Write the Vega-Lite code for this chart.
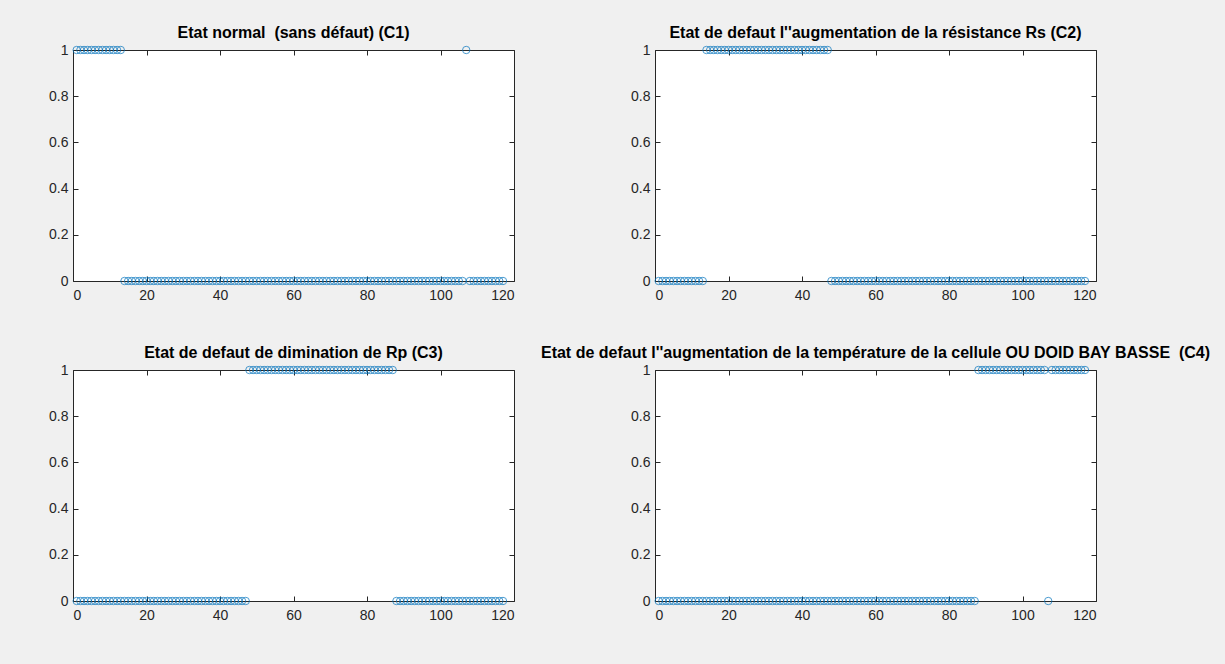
{
"$schema": "https://vega.github.io/schema/vega-lite/v6.json",
"background": "#f0f0f0",
"padding": {"left": 48, "top": 24, "right": 14, "bottom": 44},
"autosize": {"type": "pad"},
"bounds": "flush",
"columns": 2,
"spacing": {"column": 141, "row": 89},
"data": {"values": [
{"x":1,"C1":1,"C2":0,"C3":0,"C4":0},{"x":2,"C1":1,"C2":0,"C3":0,"C4":0},{"x":3,"C1":1,"C2":0,"C3":0,"C4":0},{"x":4,"C1":1,"C2":0,"C3":0,"C4":0},{"x":5,"C1":1,"C2":0,"C3":0,"C4":0},{"x":6,"C1":1,"C2":0,"C3":0,"C4":0},{"x":7,"C1":1,"C2":0,"C3":0,"C4":0},{"x":8,"C1":1,"C2":0,"C3":0,"C4":0},{"x":9,"C1":1,"C2":0,"C3":0,"C4":0},{"x":10,"C1":1,"C2":0,"C3":0,"C4":0},
{"x":11,"C1":1,"C2":0,"C3":0,"C4":0},{"x":12,"C1":1,"C2":0,"C3":0,"C4":0},{"x":13,"C1":1,"C2":0,"C3":0,"C4":0},
{"x":14,"C1":0,"C2":1,"C3":0,"C4":0},{"x":15,"C1":0,"C2":1,"C3":0,"C4":0},{"x":16,"C1":0,"C2":1,"C3":0,"C4":0},{"x":17,"C1":0,"C2":1,"C3":0,"C4":0},{"x":18,"C1":0,"C2":1,"C3":0,"C4":0},{"x":19,"C1":0,"C2":1,"C3":0,"C4":0},{"x":20,"C1":0,"C2":1,"C3":0,"C4":0},
{"x":21,"C1":0,"C2":1,"C3":0,"C4":0},{"x":22,"C1":0,"C2":1,"C3":0,"C4":0},{"x":23,"C1":0,"C2":1,"C3":0,"C4":0},{"x":24,"C1":0,"C2":1,"C3":0,"C4":0},{"x":25,"C1":0,"C2":1,"C3":0,"C4":0},{"x":26,"C1":0,"C2":1,"C3":0,"C4":0},{"x":27,"C1":0,"C2":1,"C3":0,"C4":0},{"x":28,"C1":0,"C2":1,"C3":0,"C4":0},{"x":29,"C1":0,"C2":1,"C3":0,"C4":0},{"x":30,"C1":0,"C2":1,"C3":0,"C4":0},
{"x":31,"C1":0,"C2":1,"C3":0,"C4":0},{"x":32,"C1":0,"C2":1,"C3":0,"C4":0},{"x":33,"C1":0,"C2":1,"C3":0,"C4":0},{"x":34,"C1":0,"C2":1,"C3":0,"C4":0},{"x":35,"C1":0,"C2":1,"C3":0,"C4":0},{"x":36,"C1":0,"C2":1,"C3":0,"C4":0},{"x":37,"C1":0,"C2":1,"C3":0,"C4":0},{"x":38,"C1":0,"C2":1,"C3":0,"C4":0},{"x":39,"C1":0,"C2":1,"C3":0,"C4":0},{"x":40,"C1":0,"C2":1,"C3":0,"C4":0},
{"x":41,"C1":0,"C2":1,"C3":0,"C4":0},{"x":42,"C1":0,"C2":1,"C3":0,"C4":0},{"x":43,"C1":0,"C2":1,"C3":0,"C4":0},{"x":44,"C1":0,"C2":1,"C3":0,"C4":0},{"x":45,"C1":0,"C2":1,"C3":0,"C4":0},{"x":46,"C1":0,"C2":1,"C3":0,"C4":0},{"x":47,"C1":0,"C2":1,"C3":0,"C4":0},
{"x":48,"C1":0,"C2":0,"C3":1,"C4":0},{"x":49,"C1":0,"C2":0,"C3":1,"C4":0},{"x":50,"C1":0,"C2":0,"C3":1,"C4":0},
{"x":51,"C1":0,"C2":0,"C3":1,"C4":0},{"x":52,"C1":0,"C2":0,"C3":1,"C4":0},{"x":53,"C1":0,"C2":0,"C3":1,"C4":0},{"x":54,"C1":0,"C2":0,"C3":1,"C4":0},{"x":55,"C1":0,"C2":0,"C3":1,"C4":0},{"x":56,"C1":0,"C2":0,"C3":1,"C4":0},{"x":57,"C1":0,"C2":0,"C3":1,"C4":0},{"x":58,"C1":0,"C2":0,"C3":1,"C4":0},{"x":59,"C1":0,"C2":0,"C3":1,"C4":0},{"x":60,"C1":0,"C2":0,"C3":1,"C4":0},
{"x":61,"C1":0,"C2":0,"C3":1,"C4":0},{"x":62,"C1":0,"C2":0,"C3":1,"C4":0},{"x":63,"C1":0,"C2":0,"C3":1,"C4":0},{"x":64,"C1":0,"C2":0,"C3":1,"C4":0},{"x":65,"C1":0,"C2":0,"C3":1,"C4":0},{"x":66,"C1":0,"C2":0,"C3":1,"C4":0},{"x":67,"C1":0,"C2":0,"C3":1,"C4":0},{"x":68,"C1":0,"C2":0,"C3":1,"C4":0},{"x":69,"C1":0,"C2":0,"C3":1,"C4":0},{"x":70,"C1":0,"C2":0,"C3":1,"C4":0},
{"x":71,"C1":0,"C2":0,"C3":1,"C4":0},{"x":72,"C1":0,"C2":0,"C3":1,"C4":0},{"x":73,"C1":0,"C2":0,"C3":1,"C4":0},{"x":74,"C1":0,"C2":0,"C3":1,"C4":0},{"x":75,"C1":0,"C2":0,"C3":1,"C4":0},{"x":76,"C1":0,"C2":0,"C3":1,"C4":0},{"x":77,"C1":0,"C2":0,"C3":1,"C4":0},{"x":78,"C1":0,"C2":0,"C3":1,"C4":0},{"x":79,"C1":0,"C2":0,"C3":1,"C4":0},{"x":80,"C1":0,"C2":0,"C3":1,"C4":0},
{"x":81,"C1":0,"C2":0,"C3":1,"C4":0},{"x":82,"C1":0,"C2":0,"C3":1,"C4":0},{"x":83,"C1":0,"C2":0,"C3":1,"C4":0},{"x":84,"C1":0,"C2":0,"C3":1,"C4":0},{"x":85,"C1":0,"C2":0,"C3":1,"C4":0},{"x":86,"C1":0,"C2":0,"C3":1,"C4":0},{"x":87,"C1":0,"C2":0,"C3":1,"C4":0},
{"x":88,"C1":0,"C2":0,"C3":0,"C4":1},{"x":89,"C1":0,"C2":0,"C3":0,"C4":1},{"x":90,"C1":0,"C2":0,"C3":0,"C4":1},
{"x":91,"C1":0,"C2":0,"C3":0,"C4":1},{"x":92,"C1":0,"C2":0,"C3":0,"C4":1},{"x":93,"C1":0,"C2":0,"C3":0,"C4":1},{"x":94,"C1":0,"C2":0,"C3":0,"C4":1},{"x":95,"C1":0,"C2":0,"C3":0,"C4":1},{"x":96,"C1":0,"C2":0,"C3":0,"C4":1},{"x":97,"C1":0,"C2":0,"C3":0,"C4":1},{"x":98,"C1":0,"C2":0,"C3":0,"C4":1},{"x":99,"C1":0,"C2":0,"C3":0,"C4":1},{"x":100,"C1":0,"C2":0,"C3":0,"C4":1},
{"x":101,"C1":0,"C2":0,"C3":0,"C4":1},{"x":102,"C1":0,"C2":0,"C3":0,"C4":1},{"x":103,"C1":0,"C2":0,"C3":0,"C4":1},{"x":104,"C1":0,"C2":0,"C3":0,"C4":1},{"x":105,"C1":0,"C2":0,"C3":0,"C4":1},{"x":106,"C1":0,"C2":0,"C3":0,"C4":1},{"x":107,"C1":1,"C2":0,"C3":0,"C4":0},{"x":108,"C1":0,"C2":0,"C3":0,"C4":1},{"x":109,"C1":0,"C2":0,"C3":0,"C4":1},{"x":110,"C1":0,"C2":0,"C3":0,"C4":1},
{"x":111,"C1":0,"C2":0,"C3":0,"C4":1},{"x":112,"C1":0,"C2":0,"C3":0,"C4":1},{"x":113,"C1":0,"C2":0,"C3":0,"C4":1},{"x":114,"C1":0,"C2":0,"C3":0,"C4":1},{"x":115,"C1":0,"C2":0,"C3":0,"C4":1},{"x":116,"C1":0,"C2":0,"C3":0,"C4":1},{"x":117,"C1":0,"C2":0,"C3":0,"C4":1}
]},
"config": {
  "view": {"stroke": "#262626", "strokeWidth": 1, "fill": "white"},
  "axis": {"domain": false, "grid": false, "tickColor": "#262626", "tickSize": -5, "labelColor": "#262626", "labelFont": "Liberation Sans", "labelFontSize": 14},
  "axisX": {"labelPadding": 12},
  "axisY": {"labelPadding": 10},
  "title": {"font": "Liberation Sans", "fontSize": 16, "fontWeight": "bold", "color": "black", "offset": 2}
},
"concat": [
  {"title": "Etat normal\u00a0 (sans défaut) (C1)", "width": 441, "height": 231,
   "layer": [
    {"mark": {"type": "point", "shape": "circle", "size": 55, "filled": false, "color": "#0072BD", "strokeWidth": 1},
     "encoding": {"x": {"field": "x", "type": "quantitative", "scale": {"domain": [0, 120], "nice": false}, "axis": {"title": null, "values": [0,20,40,60,80,100,120]}},
                  "y": {"field": "C1", "type": "quantitative", "scale": {"domain": [0, 1], "nice": false}, "axis": {"title": null, "values": [0,0.2,0.4,0.6,0.8,1], "format": "~g"}}}},
    {"mark": {"type": "point", "opacity": 0},
     "encoding": {"x": {"field": "x", "type": "quantitative", "axis": {"title": null, "orient": "top", "labels": false, "values": [0,20,40,60,80,100,120]}},
                  "y": {"field": "C1", "type": "quantitative", "axis": {"title": null, "orient": "right", "labels": false, "values": [0,0.2,0.4,0.6,0.8,1]}}}}
   ],
   "resolve": {"axis": {"x": "independent", "y": "independent"}}},
  {"title": "Etat de defaut l''augmentation de la résistance Rs (C2)", "width": 441, "height": 231,
   "layer": [
    {"mark": {"type": "point", "shape": "circle", "size": 55, "filled": false, "color": "#0072BD", "strokeWidth": 1},
     "encoding": {"x": {"field": "x", "type": "quantitative", "scale": {"domain": [0, 120], "nice": false}, "axis": {"title": null, "values": [0,20,40,60,80,100,120]}},
                  "y": {"field": "C2", "type": "quantitative", "scale": {"domain": [0, 1], "nice": false}, "axis": {"title": null, "values": [0,0.2,0.4,0.6,0.8,1], "format": "~g"}}}},
    {"mark": {"type": "point", "opacity": 0},
     "encoding": {"x": {"field": "x", "type": "quantitative", "axis": {"title": null, "orient": "top", "labels": false, "values": [0,20,40,60,80,100,120]}},
                  "y": {"field": "C2", "type": "quantitative", "axis": {"title": null, "orient": "right", "labels": false, "values": [0,0.2,0.4,0.6,0.8,1]}}}}
   ],
   "resolve": {"axis": {"x": "independent", "y": "independent"}}},
  {"title": "Etat de defaut de dimination de Rp (C3)", "width": 441, "height": 231,
   "layer": [
    {"mark": {"type": "point", "shape": "circle", "size": 55, "filled": false, "color": "#0072BD", "strokeWidth": 1},
     "encoding": {"x": {"field": "x", "type": "quantitative", "scale": {"domain": [0, 120], "nice": false}, "axis": {"title": null, "values": [0,20,40,60,80,100,120]}},
                  "y": {"field": "C3", "type": "quantitative", "scale": {"domain": [0, 1], "nice": false}, "axis": {"title": null, "values": [0,0.2,0.4,0.6,0.8,1], "format": "~g"}}}},
    {"mark": {"type": "point", "opacity": 0},
     "encoding": {"x": {"field": "x", "type": "quantitative", "axis": {"title": null, "orient": "top", "labels": false, "values": [0,20,40,60,80,100,120]}},
                  "y": {"field": "C3", "type": "quantitative", "axis": {"title": null, "orient": "right", "labels": false, "values": [0,0.2,0.4,0.6,0.8,1]}}}}
   ],
   "resolve": {"axis": {"x": "independent", "y": "independent"}}},
  {"title": "Etat de defaut l''augmentation de la température de la cellule OU DOID BAY BASSE\u00a0 (C4)", "width": 441, "height": 231,
   "layer": [
    {"mark": {"type": "point", "shape": "circle", "size": 55, "filled": false, "color": "#0072BD", "strokeWidth": 1},
     "encoding": {"x": {"field": "x", "type": "quantitative", "scale": {"domain": [0, 120], "nice": false}, "axis": {"title": null, "values": [0,20,40,60,80,100,120]}},
                  "y": {"field": "C4", "type": "quantitative", "scale": {"domain": [0, 1], "nice": false}, "axis": {"title": null, "values": [0,0.2,0.4,0.6,0.8,1], "format": "~g"}}}},
    {"mark": {"type": "point", "opacity": 0},
     "encoding": {"x": {"field": "x", "type": "quantitative", "axis": {"title": null, "orient": "top", "labels": false, "values": [0,20,40,60,80,100,120]}},
                  "y": {"field": "C4", "type": "quantitative", "axis": {"title": null, "orient": "right", "labels": false, "values": [0,0.2,0.4,0.6,0.8,1]}}}}
   ],
   "resolve": {"axis": {"x": "independent", "y": "independent"}}}
]
}
